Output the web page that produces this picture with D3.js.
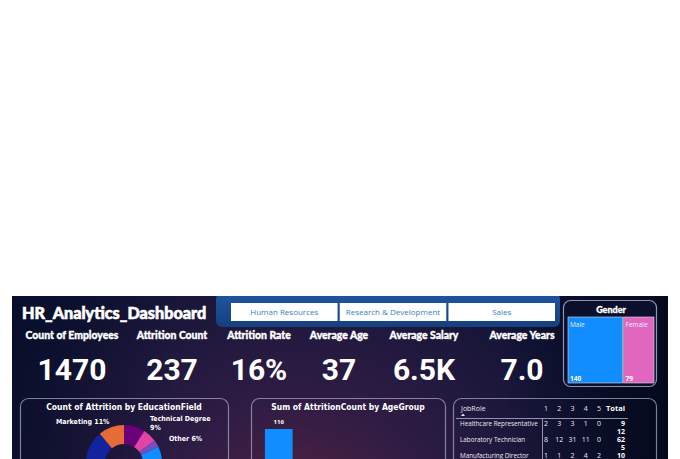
<!DOCTYPE html>
<html>
<head>
<meta charset="utf-8">
<script src="https://cdn.jsdelivr.net/npm/d3@7"></script>
<style>
  body { margin: 0; background: #fff; }
  svg { display: block; }
</style>
</head>
<body>
<script>
// data
const title = "HR_Analytics_Dashboard";
const departments = ["Human Resources", "Research & Development", "Sales"];
const kpiLabels = ["Count of Employees", "Attrition Count", "Attrition Rate", "Average Age", "Average Salary", "Average Years"];
const kpiValues = ["1470", "237", "16%", "37", "6.5K", "7.0"];
const genders = ["Male", "Female"];
const genderCounts = [140, 79];
const eduFields = ["Technical Degree", "Other", "Human Resources", "Life Sciences", "Medical", "Marketing"];
const eduPct = [9, 6, 3, 38, 33, 11];
const ageGroups = ["26-35", "18-25", "36-45", "46-55", "55+"];
const ageAttrition = [116, 44, 43, 26, 8];
const jobRoles = ["Healthcare Representative", "Laboratory Technician", "Manufacturing Director"];
const jobCols = ["1", "2", "3", "4", "5"];
const jobValues = [[2, 3, 3, 1, 0], [8, 12, 31, 11, 0], [1, 1, 2, 4, 2]];
const totalsCol = ["9", "12", "62", "5", "10"];

const W = 680, H = 459;
const eduColors = ["#6b007b", "#e044a7", "#744ec2", "#118dff", "#12239e", "#e66c37"];

var svg = d3.select("body").append("svg")
  .attr("width", W).attr("height", H);

var defs = svg.append("defs");
var bg = defs.append("radialGradient").attr("id", "bg")
  .attr("gradientUnits", "userSpaceOnUse")
  .attr("cx", 300).attr("cy", 530).attr("r", 340);
bg.append("stop").attr("offset", "0%").attr("stop-color", "#5a2240");
bg.append("stop").attr("offset", "40%").attr("stop-color", "#2e1c44");
bg.append("stop").attr("offset", "100%").attr("stop-color", "#0b1233");

var bg2 = defs.append("linearGradient").attr("id", "bg2")
  .attr("x1", 0).attr("x2", 1).attr("y1", 0).attr("y2", 0);
bg2.append("stop").attr("offset", "0%").attr("stop-color", "#060a22").attr("stop-opacity", 0.5);
bg2.append("stop").attr("offset", "25%").attr("stop-color", "#060a22").attr("stop-opacity", 0.0);
bg2.append("stop").attr("offset", "75%").attr("stop-color", "#050818").attr("stop-opacity", 0.0);
bg2.append("stop").attr("offset", "100%").attr("stop-color", "#050818").attr("stop-opacity", 0.85);

var slicerGrad = defs.append("linearGradient").attr("id", "slicer")
  .attr("x1", 0).attr("x2", 0).attr("y1", 0).attr("y2", 1);
slicerGrad.append("stop").attr("offset", "0%").attr("stop-color", "#1f56a0");
slicerGrad.append("stop").attr("offset", "100%").attr("stop-color", "#163f7e");

defs.append("clipPath").attr("id", "dashClip")
  .append("rect").attr("x", 12).attr("y", 296).attr("width", 656).attr("height", 163);

var dash = svg.append("g").attr("clip-path", "url(#dashClip)");
dash.append("rect").attr("x", 12).attr("y", 296).attr("width", 656).attr("height", 170)
  .attr("fill", "url(#bg)");
dash.append("rect").attr("x", 12).attr("y", 296).attr("width", 656).attr("height", 170)
  .attr("fill", "url(#bg2)");

// title
dash.append("text").attr("x", 22).attr("y", 319)
  .attr("fill", "#fff").attr("stroke", "#fff").attr("stroke-width", 0.6)
  .style("font", "900 16.2px Lato, sans-serif")
  .text(title);

// department slicer
dash.append("rect").attr("x", 216).attr("y", 293).attr("width", 344).attr("height", 34).attr("rx", 6)
  .attr("fill", "url(#slicer)");
var btnX = d3.scaleBand().domain(departments).range([231, 555]).paddingInner(0.02);
var btn = dash.selectAll(".btn").data(departments).enter().append("g").attr("class", "btn");
btn.append("rect")
  .attr("x", d => btnX(d)).attr("y", 303)
  .attr("width", btnX.bandwidth()).attr("height", 18)
  .attr("fill", "#fff");
btn.append("text")
  .attr("x", d => btnX(d) + btnX.bandwidth() / 2).attr("y", 315)
  .attr("text-anchor", "middle").attr("fill", "#3a80c4")
  .style("font", "8px 'Open Sans', sans-serif")
  .text(d => d);

// KPI cards
var kpiX = [72, 172, 259, 339, 424, 522];
var kpi = dash.selectAll(".kpi").data(kpiLabels).enter().append("g").attr("class", "kpi");
kpi.append("text")
  .attr("x", (d, i) => kpiX[i]).attr("y", 339)
  .attr("text-anchor", "middle").attr("fill", "#fff")
  .attr("stroke", "#fff").attr("stroke-width", 0.35)
  .style("font", "900 10.4px Lato, sans-serif")
  .text(d => d);
kpi.append("text")
  .attr("x", (d, i) => kpiX[i]).attr("y", 380)
  .attr("text-anchor", "middle").attr("fill", "#fff")
  .style("font", "bold 30px Roboto, sans-serif")
  .text((d, i) => kpiValues[i]);

// gender treemap
dash.append("rect").attr("x", 563.5).attr("y", 300.5).attr("width", 93).attr("height", 86).attr("rx", 7)
  .attr("fill", "#0b0f2c").attr("stroke", "#8f93b0").attr("stroke-width", 1.2);
dash.append("text").attr("x", 611).attr("y", 313).attr("text-anchor", "middle")
  .attr("fill", "#fff").attr("stroke", "#fff").attr("stroke-width", 0.3)
  .style("font", "900 9px Lato, sans-serif").text("Gender");
var root = d3.hierarchy({ children: genders.map((g, i) => ({ name: g, value: genderCounts[i] })) })
  .sum(d => d.value || 0);
d3.treemap().tile(d3.treemapDice).size([86, 66]).paddingInner(1)(root);
var tm = dash.append("g").attr("transform", "translate(568,317)");
var leaf = tm.selectAll("g").data(root.leaves()).enter().append("g")
  .attr("transform", d => `translate(${d.x0},${d.y0})`);
leaf.append("rect")
  .attr("width", d => d.x1 - d.x0).attr("height", d => d.y1 - d.y0)
  .attr("fill", (d, i) => i === 0 ? "#118dff" : "#e066c0")
  .attr("stroke", "#d9d9e6").attr("stroke-width", 0.6);
leaf.append("text").attr("x", 2).attr("y", 10)
  .attr("fill", "#e8eefc").style("font", "6.5px 'Open Sans', sans-serif")
  .text(d => d.data.name);
leaf.append("text").attr("x", 2).attr("y", d => d.y1 - d.y0 - 2)
  .attr("fill", "#fff").style("font", "bold 6.5px 'Open Sans', sans-serif")
  .text(d => d.data.value);

// panel frames
function panel(x, w, label, cx) {
  dash.append("rect").attr("x", x).attr("y", 398.5).attr("width", w).attr("height", 90).attr("rx", 8)
    .attr("fill", "none").attr("stroke", "#9a9cb8").attr("stroke-opacity", 0.8).attr("stroke-width", 1.2);
  if (label) dash.append("text").attr("x", cx).attr("y", 410).attr("text-anchor", "middle")
    .attr("fill", "#fff").style("font", "bold 8.5px 'DejaVu Sans Condensed', 'Liberation Sans Narrow', sans-serif")
    .text(label);
}
panel(20.5, 208, "Count of Attrition by EducationField", 124);
panel(251.5, 194, "Sum of AttritionCount by AgeGroup", 348);
panel(453.5, 203, null, 0);

// donut
var pie = d3.pie().sort(null).value(d => d)(eduPct);
var arc = d3.arc().innerRadius(19).outerRadius(38);
var donut = dash.append("g").attr("transform", "translate(124,463)");
donut.selectAll("path").data(pie).enter().append("path")
  .attr("d", arc).attr("fill", (d, i) => eduColors[i]);
var lblFont = "bold 7px 'DejaVu Sans Condensed', sans-serif";
dash.append("text").attr("x", 56).attr("y", 424).attr("fill", "#fff").style("font", lblFont)
  .text(eduFields[5] + " " + eduPct[5] + "%");
dash.append("text").attr("x", 150).attr("y", 421).attr("fill", "#fff").style("font", lblFont)
  .text(eduFields[0]);
dash.append("text").attr("x", 150).attr("y", 430).attr("fill", "#fff").style("font", lblFont)
  .text(eduPct[0] + "%");
dash.append("text").attr("x", 169).attr("y", 441).attr("fill", "#fff").style("font", lblFont)
  .text(eduFields[1] + " " + eduPct[1] + "%");

// bar chart (only the tallest bar reaches into the visible part)
var x = d3.scaleBand().domain(ageGroups).range([258, 438]).padding(0.2);
var y = d3.scaleLinear().domain([0, d3.max(ageAttrition)]).range([520, 429]);
var bars = dash.append("g");
bars.selectAll("rect").data(ageAttrition).enter().append("rect")
  .attr("x", (d, i) => x(ageGroups[i])).attr("y", d => y(d))
  .attr("width", x.bandwidth()).attr("height", d => y(0) - y(d))
  .attr("fill", "#118dff");
bars.selectAll("text").data(ageAttrition.filter(d => y(d) - 5 < H - 8)).enter().append("text")
  .attr("x", (d) => x(ageGroups[ageAttrition.indexOf(d)]) + x.bandwidth() / 2).attr("y", d => y(d) - 5)
  .attr("text-anchor", "middle").attr("fill", "#fff")
  .style("font", "bold 6px 'Open Sans', sans-serif")
  .text(d => d);

// job role matrix
var mt = dash.append("g");
var colX = d3.scalePoint().domain(jobCols).range([546, 599]);
var tf = "6.3px 'Open Sans', sans-serif";
mt.append("text").attr("x", 461).attr("y", 411).attr("fill", "#e6e8f2").style("font", "7px 'Open Sans', sans-serif").text("JobRole");
mt.append("path").attr("d", "M461,416 l2,-2.5 l2,2.5 z").attr("fill", "#e6e8f2");
mt.selectAll(".ch").data(jobCols).enter().append("text")
  .attr("x", d => colX(d)).attr("y", 411).attr("text-anchor", "middle")
  .attr("fill", "#e6e8f2").style("font", "7px 'Open Sans', sans-serif").text(d => d);
mt.append("text").attr("x", 625).attr("y", 411).attr("text-anchor", "end")
  .attr("fill", "#fff").style("font", "bold 7.5px 'Open Sans', sans-serif").text("Total");
mt.append("line").attr("x1", 456).attr("x2", 628).attr("y1", 418.5).attr("y2", 418.5)
  .attr("stroke", "#b0b3c8").attr("stroke-width", 0.8);
mt.append("line").attr("x1", 542.5).attr("x2", 542.5).attr("y1", 418.5).attr("y2", 470)
  .attr("stroke", "#b0b3c8").attr("stroke-width", 0.8);
var rowY = d3.scalePoint().domain(jobRoles).range([426, 458]);
var rows = mt.selectAll(".row").data(jobRoles).enter().append("g");
rows.append("text").attr("x", 460).attr("y", d => rowY(d))
  .attr("fill", "#e6e8f2").style("font", tf).text(d => d);
rows.each(function (d, i) {
  d3.select(this).selectAll("text.v").data(jobValues[i]).enter().append("text")
    .attr("class", "v")
    .attr("x", (v, j) => colX(jobCols[j])).attr("y", rowY(d))
    .attr("text-anchor", "middle").attr("fill", "#e6e8f2").style("font", "7px 'Open Sans', sans-serif")
    .text(v => v);
});
var totY = d3.scaleLinear().domain([0, totalsCol.length - 1]).range([426, 458]);
mt.selectAll(".tot").data(totalsCol).enter().append("text")
  .attr("x", 625).attr("y", (d, i) => totY(i)).attr("text-anchor", "end")
  .attr("fill", "#fff").style("font", "bold 7px 'Open Sans', sans-serif")
  .text(d => d);
</script>
</body>
</html>
